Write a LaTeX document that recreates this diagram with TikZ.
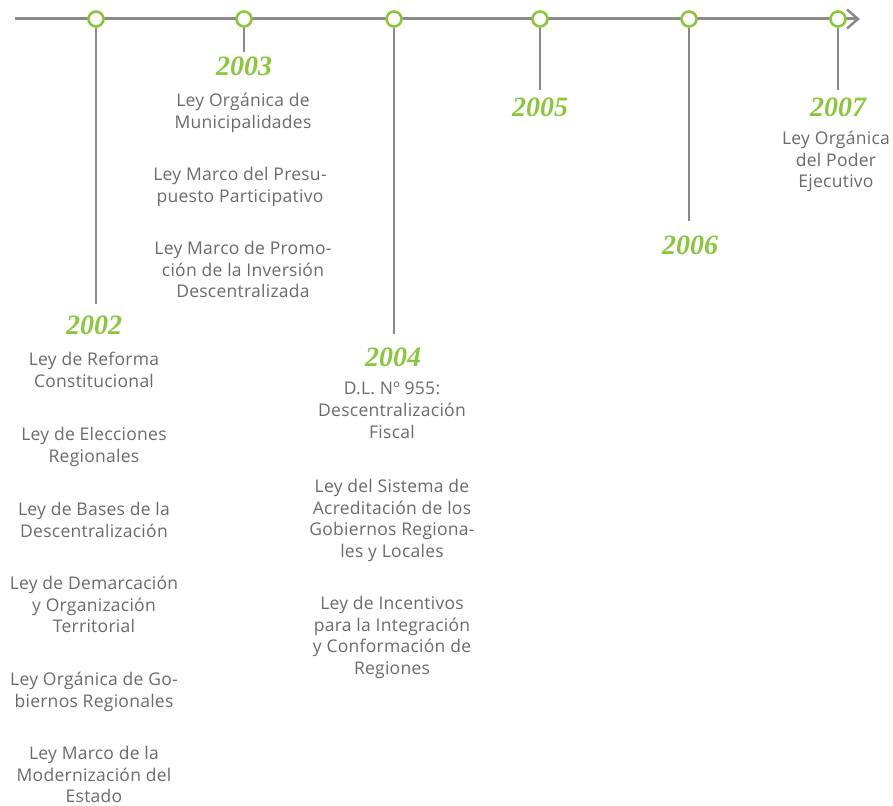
\documentclass[tikz,border=0pt]{standalone}
\usepackage{fontspec}
\setmainfont{Open Sans}[LetterSpace=1.5]
\newfontfamily\yearfont{Liberation Serif}
\definecolor{tlgreen}{HTML}{8CC63F}
\definecolor{tlgray}{HTML}{8A8A8A}
\definecolor{txtgray}{HTML}{6A6A6A}
\begin{document}
\begin{tikzpicture}[x=1pt,y=-1pt,
  dot/.style={circle,draw=tlgreen,line width=2.6pt,fill=white,minimum size=15pt,inner sep=0pt},
  stem/.style={draw=tlgray,line width=1.5pt},
  year/.style={font=\yearfont\bfseries\itshape\fontsize{28}{28}\selectfont,text=tlgreen,inner sep=0pt},
  law/.style={font=\fontsize{17.5}{21.6}\selectfont,text=txtgray,align=center,anchor=north,inner sep=0pt}]
\useasboundingbox (0,0) rectangle (893,805);
% axis
\draw[tlgray,line width=3pt] (15,19) -- (858,19);
\draw[tlgray,line width=2.5pt] (847,9.5) -- (858,19) -- (847,28.5);
% dots
\node[dot] (c1) at (96,19) {};
\node[dot] (c2) at (244,19) {};
\node[dot] (c3) at (394,19) {};
\node[dot] (c4) at (540,19) {};
\node[dot] (c5) at (689,19) {};
\node[dot] (c6) at (838,19) {};
% stem ends
\coordinate (e1) at (96,304);
\coordinate (e2) at (244,52);
\coordinate (e3) at (394,334);
\coordinate (e4) at (540,90);
\coordinate (e5) at (689,221);
\coordinate (e6) at (838,90);
\draw[stem] (c1.south) -- (e1);
\draw[stem] (c2.south) -- (e2);
\draw[stem] (c3.south) -- (e3);
\draw[stem] (c4.south) -- (e4);
\draw[stem] (c5.south) -- (e5);
\draw[stem] (c6.south) -- (e6);
% years
\node[year] (y2002) at (94,325) {2002};
\node[year] (y2003) at (244,66) {2003};
\node[year] (y2004) at (393,357) {2004};
\node[year] (y2005) at (540,107) {2005};
\node[year] (y2006) at (690,245) {2006};
\node[year] (y2007) at (838,107) {2007};
% 2003 laws
\node[law] (l31) at (243,93) {Ley Orgánica de\\Municipalidades};
\node[law] (l32) at (240,167) {Ley Marco del Presu-\\puesto Participativo};
\node[law] (l33) at (243,241) {Ley Marco de Promo-\\ción de la Inversión\\Descentralizada};
% 2002 laws
\node[law] (l21) at (94,352) {Ley de Reforma\\Constitucional};
\node[law] (l22) at (94,427) {Ley de Elecciones\\Regionales};
\node[law] (l23) at (94,502) {Ley de Bases de la\\Descentralización};
\node[law] (l24) at (94,576) {Ley de Demarcación\\y Organización\\Territorial};
\node[law] (l25) at (94,672) {Ley Orgánica de Go-\\biernos Regionales};
\node[law] (l26) at (94,746) {Ley Marco de la\\Modernización del\\Estado};
% 2004 laws
\node[law] (l41) at (392,382) {D.L. Nº 955:\\Descentralización\\Fiscal};
\node[law] (l42) at (392,479) {Ley del Sistema de\\Acreditación de los\\Gobiernos Regiona-\\les y Locales};
\node[law] (l43) at (392,596) {Ley de Incentivos\\para la Integración\\y Conformación de\\Regiones};
% 2007 law
\node[law] (l71) at (836,131) {Ley Orgánica\\del Poder\\Ejecutivo};
\end{tikzpicture}
\end{document}
